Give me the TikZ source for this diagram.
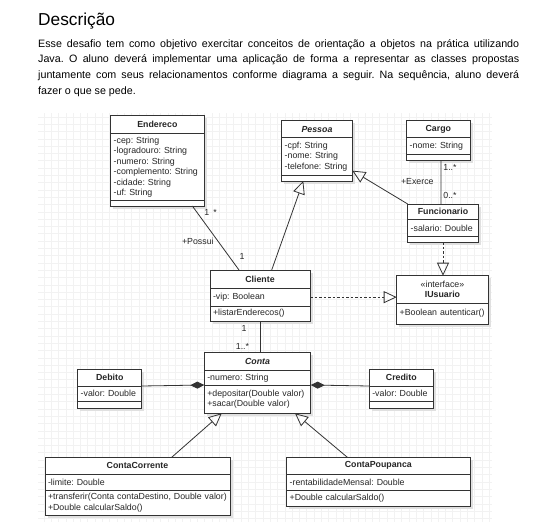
\documentclass[tikz,border=0pt]{standalone}
\usepackage{fontspec}
\setmainfont{Liberation Sans}
\usepackage{tikz}
\usetikzlibrary{arrows.meta,shadows,positioning}
\frenchspacing

\begin{document}
\begin{tikzpicture}[x=1pt, y=-1pt,
                    gridline/.style={step=7.3pt, black!5, line width=0.3pt},
                    classpart/.style={draw=black!80, fill=white, line width=0.8pt,
                                      inner xsep=3pt, inner ysep=0pt, outer sep=0pt, align=left,
                                      font=\fontsize{8.8}{10.5}\selectfont, text=black!85,
                                      drop shadow={shadow xshift=2.5pt, shadow yshift=-2.5pt, fill=black!12, opacity=1}},
                    classhead/.style={classpart, align=center, font=\fontsize{8.8}{10.5}\selectfont\bfseries},
                    abstract/.style={classhead, font=\fontsize{8.8}{10.5}\selectfont\bfseries\itshape},
                    wd/.style={text width=#1-6pt},
                    ht/.style={minimum height=#1},
                    assoc/.style={draw=black!80, line width=0.8pt},
                    gen/.style={assoc, -{Triangle[open, length=13pt, width=12pt]}},
                    real/.style={gen, dash pattern=on 2.5pt off 2pt},
                    comp/.style={assoc, -{Diamond[length=14pt, width=7pt]}},
                    mult/.style={font=\fontsize{8.8}{10.5}\selectfont, text=black!85, inner sep=0pt},
                   ]

\useasboundingbox (0,0) rectangle (541,522);

% texto
\node[anchor=base west, inner sep=0pt, font=\fontsize{17.3}{20}\selectfont] (title) at (38,25.7) {Descrição};
\node[anchor=north west, inner sep=0pt, text width=481pt, align=justify,
      font=\fontsize{10.7}{15.6}\selectfont] (desc) at (38,36.1)
     {\strut Esse desafio tem como objetivo exercitar conceitos de orientação a objetos na prática utilizando\linebreak
      Java. O aluno deverá implementar uma aplicação de forma a representar as classes propostas\linebreak
      juntamente com seus relacionamentos conforme diagrama a seguir. Na sequência, aluno deverá\linebreak
      fazer o que se pede.};

\draw[gridline] (38,113) grid (492,522);

% classes
\node[classhead, wd=93.3pt, ht=17.6pt, anchor=north west] (end) at (110.7,115.7) {Endereco};
\node[classpart, wd=93.3pt, ht=67.4pt, below=0pt of end] (end-a)
     {-cep: String\\-logradouro: String\\-numero: String\\-complemento: String\\-cidade: String\\-uf: String};
\node[classpart, wd=93.3pt, ht=5.3pt, below=0pt of end-a] (end-m) {};

\node[abstract, wd=70.6pt, ht=17pt, anchor=north west] (pes) at (281.7,120.7) {Pessoa};
\node[classpart, wd=70.6pt, ht=37.3pt, below=0pt of pes] (pes-a) {-cpf: String\\-nome: String\\-telefone: String};
\node[classpart, wd=70.6pt, ht=6pt, below=0pt of pes-a] (pes-m) {};

\node[classhead, wd=63.3pt, ht=17pt, anchor=north west] (car) at (406.7,120.7) {Cargo};
\node[classpart, wd=63.3pt, ht=16.6pt, below=0pt of car] (car-a) {-nome: String};
\node[classpart, wd=63.3pt, ht=5.7pt, below=0pt of car-a] (car-m) {};

\node[classhead, wd=70.6pt, ht=15.3pt, anchor=north west] (fun) at (407.7,204) {Funcionario};
\node[classpart, wd=70.6pt, ht=17.4pt, below=0pt of fun] (fun-a) {-salario: Double};
\node[classpart, wd=70.6pt, ht=5.6pt, below=0pt of fun-a] (fun-m) {};

\node[classhead, wd=100pt, ht=18.3pt, anchor=north west] (cli) at (210,270) {Cliente};
\node[classpart, wd=100pt, ht=17.7pt, below=0pt of cli] (cli-a) {-vip: Boolean};
\node[classpart, wd=100pt, ht=15pt, below=0pt of cli-a] (cli-m) {+listarEnderecos()};

\node[classhead, wd=91.6pt, ht=27.6pt, anchor=north west] (iu) at (396.7,275.7) {{\mdseries «interface»}\\IUsuario};
\node[classpart, wd=91.6pt, ht=20.7pt, below=0pt of iu] (iu-m) {+Boolean autenticar()};

\node[abstract, wd=106.4pt, ht=18pt, anchor=north west] (con) at (204.3,352.7) {Conta};
\node[classpart, wd=106.4pt, ht=14.3pt, below=0pt of con] (con-a) {-numero: String};
\node[classpart, wd=106.4pt, ht=28.3pt, below=0pt of con-a] (con-m) {+depositar(Double valor)\\+sacar(Double valor)};

\node[classhead, wd=64pt, ht=17pt, anchor=north west] (deb) at (77.7,369) {Debito};
\node[classpart, wd=64pt, ht=15.7pt, below=0pt of deb] (deb-a) {-valor: Double};
\node[classpart, wd=64pt, ht=6.6pt, below=0pt of deb-a] (deb-m) {};

\node[classhead, wd=64pt, ht=17pt, anchor=north west] (cre) at (369.3,369) {Credito};
\node[classpart, wd=64pt, ht=15.7pt, below=0pt of cre] (cre-a) {-valor: Double};
\node[classpart, wd=64pt, ht=6.6pt, below=0pt of cre-a] (cre-m) {};

\node[classhead, wd=185pt, ht=16.7pt, anchor=north west] (cc) at (45,457.3) {ContaCorrente};
\node[classpart, wd=185pt, ht=16pt, below=0pt of cc] (cc-a) {-limite: Double};
\node[classpart, wd=185pt, ht=25pt, below=0pt of cc-a] (cc-m)
     {+transferir(Conta contaDestino, Double valor)\\+Double calcularSaldo()};

\node[classhead, wd=183.3pt, ht=16.7pt, anchor=north west] (cp) at (286.7,457.3) {ContaPoupanca};
\node[classpart, wd=183.3pt, ht=16.7pt, below=0pt of cp] (cp-a) {-rentabilidadeMensal: Double};
\node[classpart, wd=183.3pt, ht=16pt, below=0pt of cp-a] (cp-m) {+Double calcularSaldo()};

% relacionamentos
\draw[assoc] ([xshift=35pt]end-m.south) -- ([xshift=-21pt]cli.north)
      node[mult, pos=0.1, right=7pt] {1\hspace{4pt}*}
      node[mult, pos=0.55, left=4pt] {+Possui}
      node[mult, pos=0.79, right=10pt] {1};
\draw[gen] ([xshift=11.7pt]cli.north) -- ([xshift=-13.7pt]pes-m.south);
\draw[gen] (fun.north west) -- ([yshift=-14.3pt]pes-a.east);
\draw[assoc] ([xshift=2.65pt]car-m.south) -- ([xshift=-2pt]fun.north)
      node[mult, pos=0.17, right=2pt] {1..*}
      node[mult, pos=0.49, left=7pt] {+Exerce}
      node[mult, pos=0.81, right=2pt] {0..*};
\draw[real] (fun-m.south) -- (fun-m.south |- iu.north);
\draw[real] (cli-a.east) -- (cli-a.east -| iu.west);
\draw[assoc] (cli-m.south) -- (cli-m.south |- con.north)
      node[mult, pos=0.23, left=13pt] {1}
      node[mult, pos=0.79, left=10.5pt] {1..*};
\draw[comp] (deb-a.north east) -- (con-a.south west);
\draw[comp] (cre-a.north west) -- (con-a.south east);
\draw[gen] ([xshift=34.2pt]cc.north) -- ([xshift=-35.8pt]con-m.south);
\draw[gen] ([xshift=-31pt]cp.north) -- ([xshift=37.5pt]con-m.south);

\end{tikzpicture}
\end{document}
